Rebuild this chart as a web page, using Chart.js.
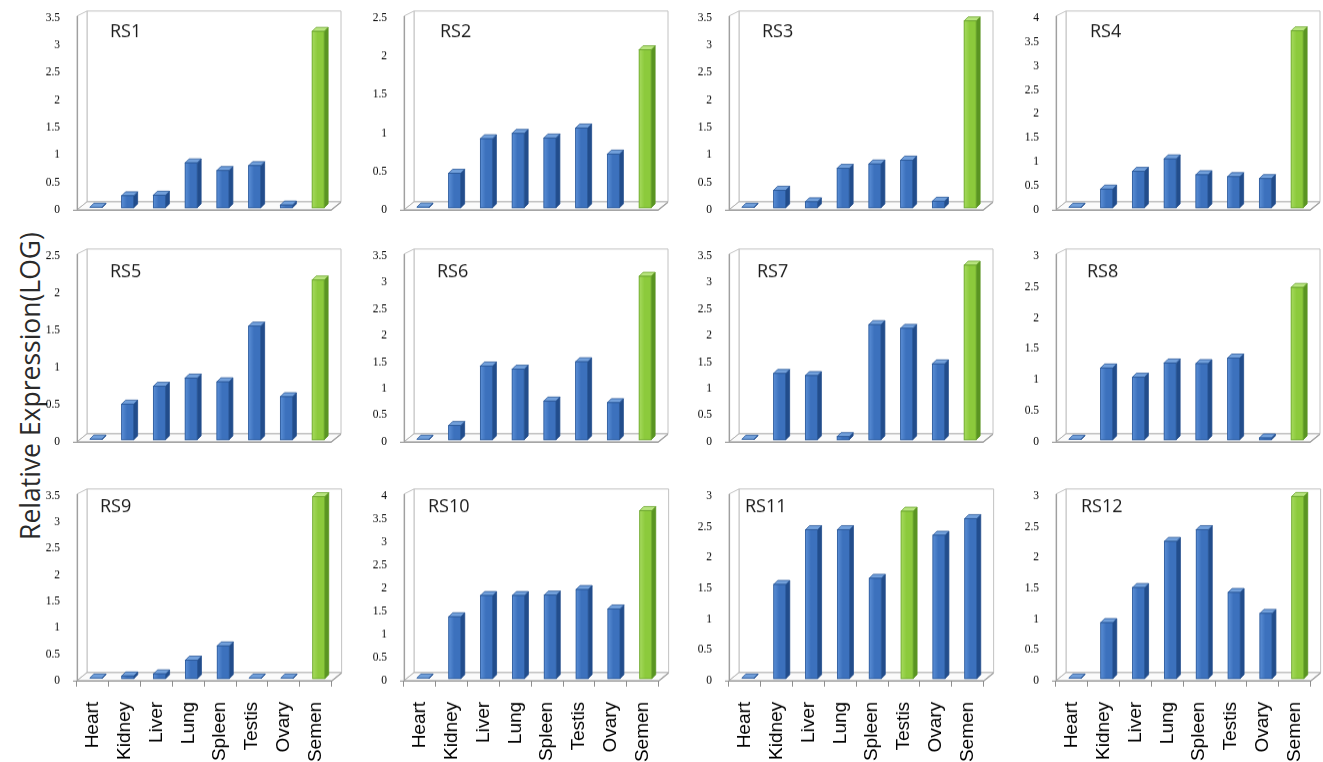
<!DOCTYPE html>
<html>
<head>
<meta charset="utf-8">
<script src="https://cdn.jsdelivr.net/npm/chart.js@4.4.0/dist/chart.umd.min.js"></script>
<style>
  html, body { margin: 0; padding: 0; background: #fff; width: 1323px; height: 762px; overflow: hidden; position: relative; }
  canvas.panel { position: absolute; }
  #ytitle {
    position: absolute; left: 30px; top: 386px;
    transform: translate(-50%, -50%) rotate(-90deg);
    font-family: 'Open Sans', sans-serif; font-size: 26.5px; color: #2a2a2a; white-space: nowrap;
  }
</style>
</head>
<body>
<div id="ytitle">Relative Expression(LOG)</div>
<script>
// Tissues on the category axis
const tissues = ['Heart', 'Kidney', 'Liver', 'Lung', 'Spleen', 'Testis', 'Ovary', 'Semen'];
// Gene panels
const genes = ['RS1', 'RS2', 'RS3', 'RS4', 'RS5', 'RS6', 'RS7', 'RS8', 'RS9', 'RS10', 'RS11', 'RS12'];
// Top of each panel's value axis (ticks every 0.5)
const yMax = [3.5, 2.5, 3.5, 4, 2.5, 3.5, 3.5, 3, 3.5, 4, 3, 3];
const yStep = 0.5;

// Relative expression (log) per tissue, in the order of `tissues`
const rs1  = [0.01, 0.22, 0.23, 0.82, 0.68, 0.77, 0.05, 3.22];
const rs2  = [0.01, 0.45, 0.90, 0.97, 0.91, 1.04, 0.70, 2.06];
const rs3  = [0.01, 0.32, 0.11, 0.72, 0.80, 0.87, 0.12, 3.41];
const rs4  = [0.01, 0.39, 0.76, 1.02, 0.69, 0.65, 0.61, 3.69];
const rs5  = [0.01, 0.48, 0.72, 0.83, 0.78, 1.53, 0.58, 2.15];
const rs6  = [0.01, 0.27, 1.39, 1.33, 0.73, 1.47, 0.70, 3.08];
const rs7  = [0.01, 1.25, 1.21, 0.06, 2.17, 2.10, 1.43, 3.29];
const rs8  = [0.01, 1.16, 1.01, 1.24, 1.23, 1.32, 0.03, 2.46];
const rs9  = [0.01, 0.05, 0.09, 0.35, 0.62, 0.01, 0.01, 3.45];
const rs10 = [0.01, 1.34, 1.80, 1.80, 1.81, 1.93, 1.51, 3.64];
const rs11 = [0.01, 1.53, 2.42, 2.42, 1.63, 2.72, 2.33, 2.60];
const rs12 = [0.01, 0.91, 1.48, 2.23, 2.42, 1.40, 1.06, 2.96];
const expression = [rs1, rs2, rs3, rs4, rs5, rs6, rs7, rs8, rs9, rs10, rs11, rs12];

// Tissue with the highest expression in each panel, shown in green
const peakTissue = ['Semen', 'Semen', 'Semen', 'Semen', 'Semen', 'Semen',
                    'Semen', 'Semen', 'Semen', 'Semen', 'Testis', 'Semen'];

// ---- layout ----
const COL_LEFT = [77, 404, 729, 1056];   // left edge of each front plot plane
const ROW_TOP = [18, 256, 496];          // top of each front plot plane
const ROW_H = [191, 185, 184];
const PLOT_W = 254;
const AXIS_W = 70, PAD_T = 14, PAD_R = 14, PAD_B = 8, XAXIS_H = 90;
const DEPTH = { x: 10, y: -8 };          // box depth (front -> back wall)
const BAR_DEPTH = { x: 4, y: -4 };       // depth of each column
const BAR_SHIFT = { x: 3, y: -2 };       // columns sit slightly behind the front plane
const TITLE_DX = [33, 36, 33, 34, 33, 33, 28, 31, 23, 24, 16, 25];
const TITLE_DY = [19, 21, 16];

const STYLE = {
  blue:  { front: '#3c71bd', light: '#5a8ed5', side: '#224d8c', top: '#72a0db', edge: '#2a5899' },
  green: { front: '#8cca3c', light: '#a6da5e', side: '#5a9522', top: '#b8e47e', edge: '#69a42b' }
};

function poly(ctx, pts, fill, stroke) {
  ctx.beginPath();
  ctx.moveTo(pts[0][0], pts[0][1]);
  for (let i = 1; i < pts.length; i++) ctx.lineTo(pts[i][0], pts[i][1]);
  ctx.closePath();
  if (fill) { ctx.fillStyle = fill; ctx.fill(); }
  if (stroke) { ctx.strokeStyle = stroke; ctx.stroke(); }
}

// Draws the 3-D frame (back wall, side wall, floor) and gives the columns depth
const box3d = {
  id: 'box3d',
  beforeDraw(chart) {
    const { ctx, chartArea: a } = chart;
    const L = a.left, R = a.right, T = a.top, B = a.bottom;
    ctx.save();
    ctx.lineWidth = 1;
    // back wall
    poly(ctx, [[L + DEPTH.x, T + DEPTH.y + 1], [R + DEPTH.x, T + DEPTH.y + 1],
               [R + DEPTH.x, B + DEPTH.y], [L + DEPTH.x, B + DEPTH.y]], '#ffffff', '#c2c2c2');
    // side wall
    poly(ctx, [[L, T - 2], [L + DEPTH.x, T + DEPTH.y + 1], [L + DEPTH.x, B + DEPTH.y], [L, B]], '#ffffff', '#c2c2c2');
    // floor
    poly(ctx, [[L, B], [R, B], [R + DEPTH.x, B + DEPTH.y], [L + DEPTH.x, B + DEPTH.y]], '#fbfbfb', '#b0b0b0');
    // front edges
    ctx.strokeStyle = '#a0a0a0';
    ctx.lineWidth = 1.2;
    ctx.beginPath();
    ctx.moveTo(L + 0.5, T - 2); ctx.lineTo(L + 0.5, B);
    ctx.moveTo(L - 4, B + 0.5); ctx.lineTo(R, B + 0.5);
    ctx.lineTo(R + DEPTH.x, B + DEPTH.y + 0.5);
    ctx.stroke();
    ctx.restore();
  },
  beforeDatasetsDraw(chart) {
    chart.ctx.save();
    chart.ctx.translate(BAR_SHIFT.x, BAR_SHIFT.y);
  },
  afterDatasetsDraw(chart) {
    const ctx = chart.ctx;
    const meta = chart.getDatasetMeta(0);
    const styles = chart.data.datasets[0].faceStyles;
    meta.data.forEach((bar, i) => {
      const { x, y, base, width } = bar.getProps(['x', 'y', 'base', 'width'], true);
      const s = styles[i];
      const x0 = x - width / 2, x1 = x + width / 2;
      const top = Math.min(y, base - 0.6);
      ctx.lineWidth = 0.8;
      // side face
      poly(ctx, [[x1, top], [x1 + BAR_DEPTH.x, top + BAR_DEPTH.y],
                 [x1 + BAR_DEPTH.x, base + BAR_DEPTH.y], [x1, base]], s.side, s.side);
      // top face
      poly(ctx, [[x0, top], [x0 + BAR_DEPTH.x, top + BAR_DEPTH.y],
                 [x1 + BAR_DEPTH.x, top + BAR_DEPTH.y], [x1, top]], s.top, s.edge);
      // shading across the front face
      if (base - top > 1) {
        const g = ctx.createLinearGradient(x0, 0, x1, 0);
        g.addColorStop(0, s.light);
        g.addColorStop(0.45, s.front);
        g.addColorStop(1, s.front);
        ctx.fillStyle = g;
        ctx.fillRect(x0, top, width, base - top);
        ctx.strokeStyle = s.edge;
        ctx.strokeRect(x0, top, width, base - top);
      }
    });
    ctx.restore();
  },
  afterDraw(chart) {
    const { ctx, chartArea: a } = chart;
    const o = chart.options.plugins.box3d;
    ctx.save();
    ctx.font = '18px "Open Sans"';
    ctx.fillStyle = '#1a1a1a';
    ctx.textBaseline = 'alphabetic';
    ctx.fillText(o.name, a.left + o.dx, a.top + o.dy);
    ctx.restore();
  }
};

genes.forEach((name, k) => {
  const row = Math.floor(k / 4), col = k % 4;
  const lastRow = row === 2;
  const canvas = document.createElement('canvas');
  canvas.className = 'panel';
  const w = AXIS_W + PLOT_W + PAD_R;
  const xh = lastRow ? XAXIS_H : PAD_B;
  const h = PAD_T + ROW_H[row] + xh;
  canvas.width = w; canvas.height = h;
  canvas.style.width = w + 'px'; canvas.style.height = h + 'px';
  canvas.style.left = (COL_LEFT[col] - AXIS_W) + 'px';
  canvas.style.top = (ROW_TOP[row] - PAD_T) + 'px';
  document.body.appendChild(canvas);

  const faceStyles = tissues.map(t => t === peakTissue[k] ? STYLE.green : STYLE.blue);

  const chart = new Chart(canvas, {
    type: 'bar',
    data: {
      labels: tissues,
      datasets: [{
        data: expression[k],
        faceStyles: faceStyles,
        backgroundColor: faceStyles.map(s => s.front),
        borderWidth: 0,
        categoryPercentage: 0.42,
        barPercentage: 0.9,
        clip: false
      }]
    },
    options: {
      responsive: false,
      maintainAspectRatio: false,
      animation: false,
      devicePixelRatio: 1,
      layout: { padding: { top: PAD_T, right: PAD_R, bottom: 0, left: 0 } },
      plugins: {
        legend: { display: false },
        tooltip: { enabled: false },
        box3d: { name: name, dx: TITLE_DX[k], dy: TITLE_DY[row] }
      },
      scales: {
        x: {
          display: true,
          offset: true,
          grid: { display: lastRow, drawOnChartArea: false, offset: true, tickLength: 6, color: '#8f8f8f' },
          border: { display: false },
          ticks: {
            display: lastRow,
            autoSkip: false, minRotation: 90, maxRotation: 90, padding: 15,
            color: '#000', font: { family: 'Liberation Sans', size: 19 }
          },
          afterFit: s => { s.height = xh; }
        },
        y: {
          min: 0, max: yMax[k],
          grid: { display: false, drawTicks: false },
          border: { display: false },
          ticks: {
            stepSize: yStep, padding: 17, color: '#000', autoSkip: false,
            font: { family: 'Liberation Serif', size: 11.5 },
            callback: v => String(Math.round(v * 10) / 10)
          },
          afterFit: s => { s.width = AXIS_W; }
        }
      }
    },
    plugins: [box3d]
  });

  // size the canvas so the plot plane gets exactly the intended box, then place it
  let a = chart.chartArea;
  const dw = PLOT_W - (a.right - a.left);
  const dh = ROW_H[row] - (a.bottom - a.top);
  if (Math.abs(dw) > 0.5 || Math.abs(dh) > 0.5) {
    chart.resize(w + dw, h + dh);
    a = chart.chartArea;
  }
  canvas.style.left = (COL_LEFT[col] - a.left) + 'px';
  canvas.style.top = (ROW_TOP[row] - a.top) + 'px';
});
</script>
</body>
</html>
